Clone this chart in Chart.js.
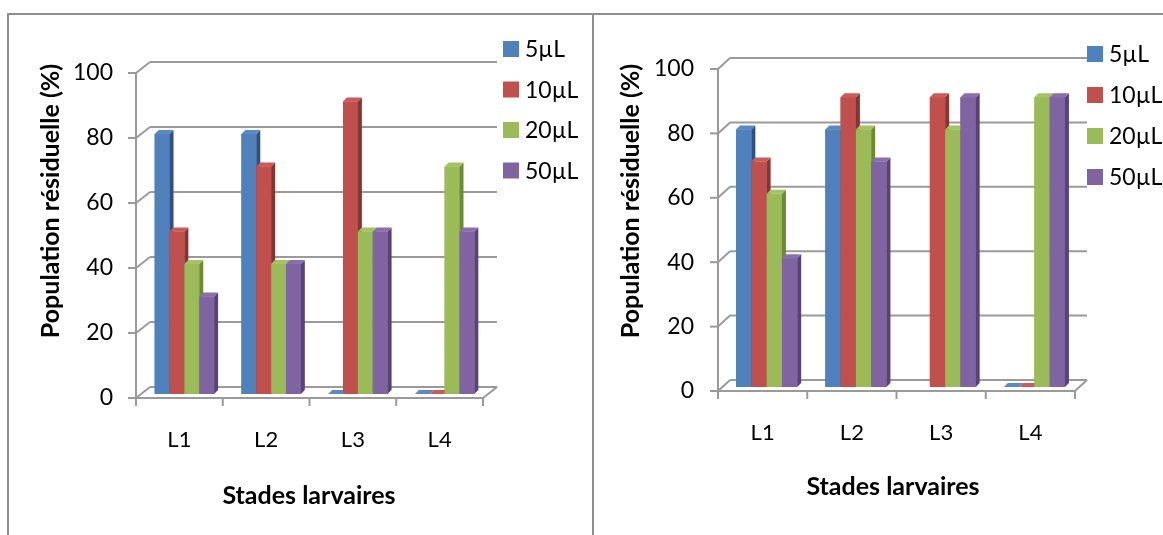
<!DOCTYPE html>
<html>
<head>
<meta charset="utf-8">
<script src="https://cdn.jsdelivr.net/npm/chart.js@4.4.1/dist/chart.umd.min.js"></script>
<style>
  html, body { margin: 0; padding: 0; background: #fff; }
  #wrap { position: relative; width: 1163px; height: 535px; overflow: hidden; background: #fff; }
  #wrap canvas { position: absolute; top: 0; }
  .rule { position: absolute; background: #8e8e8e; }
</style>
</head>
<body>
<div id="wrap">
  <canvas id="panelA" width="593" height="535" style="left:0"></canvas>
  <canvas id="panelB" width="570" height="535" style="left:593px"></canvas>
  <div class="rule" style="left:7px;top:13px;width:1156px;height:2px"></div>
  <div class="rule" style="left:7px;top:13px;width:2px;height:522px"></div>
  <div class="rule" style="left:592px;top:13px;width:2px;height:522px"></div>
</div>
<script>
// Larval stages and tested doses
const stages = ['L1', 'L2', 'L3', 'L4'];
const doses = ['5µL', '10µL', '20µL', '50µL'];
const yTicks = [0, 20, 40, 60, 80, 100];

// Residual population (%) — left panel
const a5  = [80, 80, 0, 0];
const a10 = [50, 70, 90, 0];
const a20 = [40, 40, 50, 70];
const a50 = [30, 40, 50, 50];

// Residual population (%) — right panel
const b5  = [80, 80, null, 0];
const b10 = [70, 90, 90, 0];
const b20 = [60, 80, 80, 90];
const b50 = [40, 70, 90, 90];

const yTitle = 'Population résiduelle (%)';
const xTitle = 'Stades larvaires';

// Column face colours (front, side, top)
const FRONT = ['#4F81BD', '#C0504D', '#9BBB59', '#8064A2'];
const SIDE  = ['#2E5181', '#8A3431', '#6A8A34', '#574379'];
const TOP   = ['#5A8AC4', '#C95B58', '#A5C364', '#8A6FAB'];
const GRID = '#9a9a9a';
const DEPTH = 4;
const FONT = 'Lato, "Open Sans", sans-serif';

// Layout of each panel (pixels inside its canvas)
const panels = [
  {
    id: 'panelA', series: [a5, a10, a20, a50],
    area: { left: 141, right: 488, top: 69, bottom: 394 },
    front: { dx: -5, dy: 4 }, back: { dx: 9, dy: -7 },
    yTitlePos: { x: 51, y: 201 }, xTitlePos: { x: 309, y: 496 },
    legend: { x: 503, y: 49, gap: 40.5 }
  },
  {
    id: 'panelB', series: [b5, b10, b20, b50],
    area: { left: 129, right: 486, top: 65, bottom: 387 },
    front: { dx: -4, dy: 4 }, back: { dx: 8, dy: -7 },
    yTitlePos: { x: 38, y: 201 }, xTitlePos: { x: 300, y: 487 },
    legend: { x: 494, y: 54, gap: 41 }
  }
];

function line(ctx, x1, y1, x2, y2) {
  ctx.beginPath(); ctx.moveTo(x1, y1); ctx.lineTo(x2, y2); ctx.stroke();
}
function poly(ctx, pts, color) {
  ctx.beginPath();
  ctx.moveTo(pts[0][0], pts[0][1]);
  for (let k = 1; k < pts.length; k++) ctx.lineTo(pts[k][0], pts[k][1]);
  ctx.closePath();
  ctx.fillStyle = color; ctx.fill();
}

// Walls, floor and gridlines drawn in a pseudo-3D frame around the columns
const frame3d = {
  id: 'frame3d',
  beforeDatasetsDraw(chart, args, opts) {
    const P = opts.panel;
    const ctx = chart.ctx, ys = chart.scales.y, ca = chart.chartArea;
    ctx.save();
    ctx.strokeStyle = GRID; ctx.lineWidth = 2; ctx.lineCap = 'butt';
    const fx = ca.left + P.front.dx, bx = ca.left + P.back.dx;
    const wallRight = ca.right + P.back.dx;
    yTicks.forEach(v => {
      const py = ys.getPixelForValue(v);
      const fy = py + P.front.dy, by = py + P.back.dy;
      line(ctx, fx - 8, fy, fx, fy);
      line(ctx, fx, fy, bx, by);
      line(ctx, bx, by, wallRight, by);
    });
    const f0 = ys.getPixelForValue(0) + P.front.dy;
    const fTop = ys.getPixelForValue(100) + P.front.dy;
    const b0 = ys.getPixelForValue(0) + P.back.dy;
    line(ctx, fx, fTop - 1, fx, f0 + 1);
    const fRight = ca.right + P.front.dx;
    line(ctx, fx, f0, fRight, f0);
    line(ctx, fRight, f0, wallRight, b0);
    const step = (ca.right - ca.left) / stages.length;
    for (let i = 0; i <= stages.length; i++) {
      const tx = ca.left + i * step + P.front.dx;
      line(ctx, tx, f0, tx, f0 + 8);
    }
    ctx.restore();
  },
  afterDatasetsDraw(chart) {
    const ctx = chart.ctx;
    ctx.save();
    chart.data.datasets.forEach((ds, i) => {
      const meta = chart.getDatasetMeta(i);
      meta.data.forEach((bar, j) => {
        if (ds.data[j] == null) return;
        const p = bar.getProps(['x', 'y', 'base', 'width'], true);
        const x0 = p.x - p.width / 2, x1 = p.x + p.width / 2;
        const top = Math.min(p.y, p.base), bot = Math.max(p.y, p.base);
        ctx.fillStyle = FRONT[i];
        ctx.fillRect(x0, top, p.width, bot - top);
        poly(ctx, [[x1, top], [x1 + DEPTH, top - DEPTH], [x1 + DEPTH, bot - DEPTH], [x1, bot]], SIDE[i]);
        poly(ctx, [[x0, top], [x0 + DEPTH, top - DEPTH], [x1 + DEPTH, top - DEPTH], [x1, top]], TOP[i]);
      });
    });
    ctx.restore();
  },
  afterDraw(chart, args, opts) {
    const P = opts.panel;
    const ctx = chart.ctx;
    ctx.save();
    ctx.fillStyle = '#000';
    ctx.font = 'bold 25px ' + FONT;
    ctx.textAlign = 'center'; ctx.textBaseline = 'middle';
    ctx.fillText(xTitle, P.xTitlePos.x, P.xTitlePos.y);
    ctx.save();
    ctx.translate(P.yTitlePos.x, P.yTitlePos.y);
    ctx.rotate(-Math.PI / 2);
    ctx.fillText(yTitle, 0, 0);
    ctx.restore();
    // legend
    ctx.font = '23px ' + FONT;
    ctx.textAlign = 'left';
    chart.data.datasets.forEach((ds, i) => {
      const cy = P.legend.y + i * P.legend.gap;
      ctx.fillStyle = FRONT[i];
      ctx.fillRect(P.legend.x, cy - 8, 16, 16);
      ctx.fillStyle = '#000';
      ctx.fillText(ds.label, P.legend.x + 22, cy + 1);
    });
    ctx.restore();
  }
};

function build(P) {
  const canvas = document.getElementById(P.id);
  const W = canvas.width, H = canvas.height;
  return new Chart(canvas, {
    type: 'bar',
    data: {
      labels: stages,
      datasets: doses.map((d, i) => ({
        label: d,
        data: P.series[i],
        backgroundColor: FRONT[i],
        borderWidth: 0,
        categoryPercentage: 0.685,
        barPercentage: 1
      }))
    },
    options: {
      responsive: false,
      devicePixelRatio: 1,
      animation: false,
      layout: { padding: { left: 0, top: P.area.top, right: W - P.area.right, bottom: 0 } },
      plugins: {
        legend: { display: false },
        tooltip: { enabled: false },
        frame3d: { panel: P }
      },
      scales: {
        x: {
          grid: { display: false, drawTicks: false },
          border: { display: false },
          ticks: { font: { family: FONT, size: 22 }, color: '#000', padding: 33, labelOffset: P.front.dx, maxRotation: 0 },
          afterFit: s => { s.height = H - P.area.bottom; }
        },
        y: {
          min: 0, max: 100,
          grid: { display: false, drawTicks: false },
          border: { display: false },
          ticks: { font: { family: FONT, size: 23 }, color: '#000', padding: 28, labelOffset: P.front.dy },
          afterBuildTicks: s => { s.ticks = yTicks.map(v => ({ value: v })); },
          afterFit: s => { s.width = P.area.left; }
        }
      }
    },
    plugins: [frame3d]
  });
}

const ready = (document.fonts && document.fonts.load)
  ? Promise.all([document.fonts.load('22px Lato'), document.fonts.load('bold 25px Lato')]).catch(() => {})
  : Promise.resolve();
ready.then(() => panels.forEach(build));
</script>
</body>
</html>
